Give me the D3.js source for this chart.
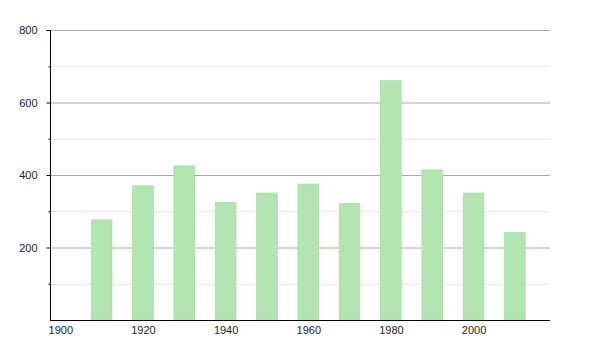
<!DOCTYPE html>
<html>
<head>
<meta charset="utf-8">
<script src="https://cdn.jsdelivr.net/npm/d3@7"></script>
<style>
  body { margin: 0; background: #fff; }
  svg text { font-family: 'Liberation Sans', Arial, sans-serif; font-size: 11px; fill: #222; }
</style>
</head>
<body>
<div id="chart"></div>
<script>
const years = [1910, 1920, 1930, 1940, 1950, 1960, 1970, 1980, 1990, 2000, 2010];
const values = [276, 370, 425, 324, 350, 375, 321, 660, 414, 350, 241];
const xTicks = [1900, 1920, 1940, 1960, 1980, 2000];
const yMajorTicks = [200, 400, 600, 800];
const yMinorTicks = [100, 300, 500, 700];

const width = 600;
const height = 350;
const margin = { top: 30, right: 50, bottom: 30, left: 50 };
const innerWidth = width - margin.left - margin.right;
const innerHeight = height - margin.top - margin.bottom;

const svg = d3.select('#chart')
  .append('svg')
    .attr('width', width)
    .attr('height', height);

const g = svg.append('g')
  .attr('transform', 'translate(' + margin.left + ',' + margin.top + ')');

const x = d3.scaleLinear()
  .domain([1897.5, 2018.5])
  .range([0, innerWidth]);

const y = d3.scaleLinear()
  .domain([0, 800])
  .range([innerHeight, 0]);

const barYears = 5;

// minor grid
g.append('g')
  .selectAll('line')
  .data(yMinorTicks)
  .enter().append('line')
    .attr('x1', 0)
    .attr('x2', innerWidth)
    .attr('y1', (d) => y(d) + 0.5)
    .attr('y2', (d) => y(d) + 0.5)
    .attr('stroke', '#e6e6e6');

// major grid
g.append('g')
  .selectAll('line')
  .data(yMajorTicks)
  .enter().append('line')
    .attr('x1', 0)
    .attr('x2', innerWidth)
    .attr('y1', (d) => y(d) + 0.5)
    .attr('y2', (d) => y(d) + 0.5)
    .attr('stroke', '#aaaaaa');

// bars
g.append('g')
  .selectAll('rect')
  .data(years)
  .enter().append('rect')
    .attr('x', (d) => x(d - barYears / 2))
    .attr('y', (d, i) => y(values[i]))
    .attr('width', (d) => x(d + barYears / 2) - x(d - barYears / 2))
    .attr('height', (d, i) => innerHeight - y(values[i]))
    .attr('fill', '#b3e5b3')
    .attr('stroke', '#a9dca9')
    .attr('stroke-width', 0.8);

// y axis
const yAxisG = g.append('g')
  .attr('transform', 'translate(0.5,0)')
  .call(d3.axisLeft(y)
    .tickValues(yMajorTicks)
    .tickSize(4)
    .tickPadding(9));

g.append('g')
  .attr('transform', 'translate(0.5,0)')
  .call(d3.axisLeft(y)
    .tickValues(yMinorTicks)
    .tickSize(2)
    .tickFormat(''))
  .select('.domain').remove();

yAxisG.select('.domain')
  .attr('d', 'M0,0V' + innerHeight)
  .attr('stroke', '#000');

// x axis
const xAxisG = g.append('g')
  .attr('transform', 'translate(0,' + (innerHeight + 0.5) + ')')
  .call(d3.axisBottom(x)
    .tickValues(xTicks)
    .tickFormat(d3.format('d'))
    .tickSize(0)
    .tickPadding(6));

xAxisG.select('.domain')
  .attr('d', 'M0,0H' + innerWidth)
  .attr('stroke', '#000');

svg.selectAll('.tick text').attr('fill', '#222');
</script>
</body>
</html>
